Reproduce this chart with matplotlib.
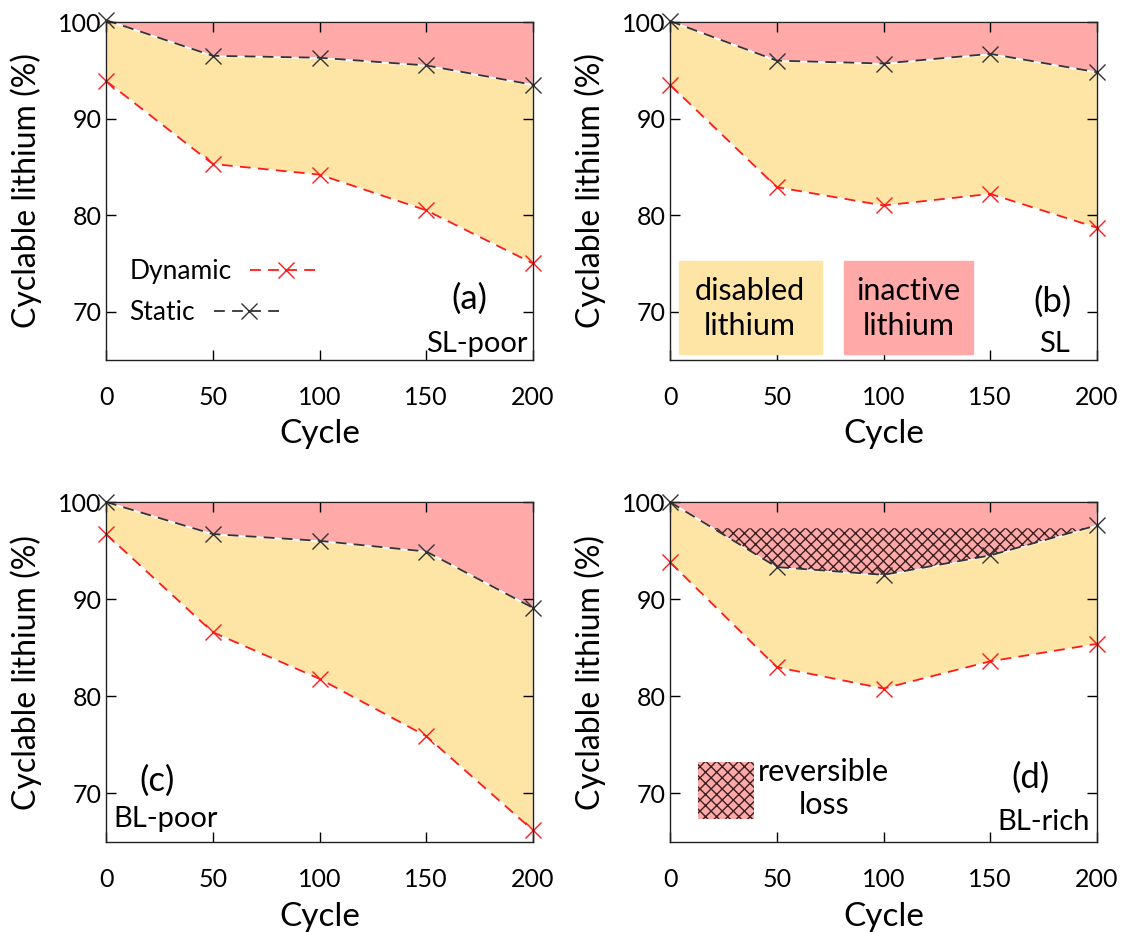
import matplotlib
matplotlib.use("Agg")
import matplotlib.pyplot as plt
import numpy as np

plt.rcParams["font.family"] = ["Lato", "DejaVu Sans"]
plt.rcParams["hatch.linewidth"] = 1.0

cycles = [0, 50, 100, 150, 200]

# panel data (cyclable lithium in %)
dyn_a = [93.9, 85.3, 84.2, 80.5, 75.0]
sta_a = [100.2, 96.5, 96.3, 95.5, 93.5]
dyn_b = [93.5, 82.9, 81.0, 82.2, 78.7]
sta_b = [100.1, 96.0, 95.7, 96.7, 94.8]
dyn_c = [96.7, 86.6, 81.8, 75.9, 66.2]
sta_c = [100.0, 96.7, 96.0, 94.9, 89.1]
dyn_d = [93.8, 83.0, 80.8, 83.6, 85.4]
sta_d = [100.0, 93.3, 92.5, 94.5, 97.6]
rev_top_d = 97.3

pink = "#FFAAA8"
yellow = "#FFE5A5"

W, H = 1123, 932
fig = plt.figure(figsize=(W / 100, H / 100), dpi=100)


def make_ax(left, top, right, bottom):
    return fig.add_axes([left / W, 1 - bottom / H, (right - left) / W, (bottom - top) / H])


def draw_panel(ax, dyn, sta):
    ax.fill_between(cycles, sta, 100, color=pink, edgecolor="white", lw=1.2, zorder=1)
    ax.fill_between(cycles, dyn, sta, color=yellow, edgecolor="white", lw=1.2, zorder=1)
    ax.plot(cycles, dyn, color="#ff1a1a", ls=(0, (6, 4)), lw=1.3, marker="x",
            ms=12, mew=1.0, zorder=4, clip_on=False, label="Dynamic")
    ax.plot(cycles, sta, color="#333333", ls=(0, (6, 4)), lw=1.3, marker="x",
            ms=12, mew=1.0, zorder=4, clip_on=False, label="Static")
    ax.set_xlim(0, 200)
    ax.set_ylim(65, 100)
    ax.set_xticks(cycles)
    ax.set_yticks([70, 80, 90, 100])
    ax.tick_params(direction="in", length=7, width=1, top=True, right=True,
                   labelsize=18, colors="black")
    ax.tick_params(axis="x", pad=19)
    ax.tick_params(axis="y", pad=3)
    for s in ax.spines.values():
        s.set_linewidth(1.0)
        s.set_color("#222222")
        s.set_zorder(5)
    ax.set_xlabel("Cycle", fontsize=24)
    ax.set_ylabel("Cyclable lithium (%)", fontsize=23)
    ax.xaxis.set_label_coords(0.5, -0.175)
    ax.yaxis.set_label_coords(-0.15, 0.5)


ax_a = make_ax(106, 22, 533, 360)
ax_b = make_ax(670, 22, 1097, 360)
ax_c = make_ax(106, 502, 533, 842)
ax_d = make_ax(670, 502, 1097, 842)

draw_panel(ax_a, dyn_a, sta_a)
draw_panel(ax_b, dyn_b, sta_b)
draw_panel(ax_c, dyn_c, sta_c)
draw_panel(ax_d, dyn_d, sta_d)

# (a)
leg = ax_a.legend(loc="upper left", bbox_to_anchor=(0.055, 0.298), frameon=False,
                  markerfirst=False, fontsize=19, handlelength=2.7,
                  handletextpad=0.7, labelspacing=0.6, borderpad=0, borderaxespad=0)
# left-align the label rows like the original
leg._legend_handle_box.get_children()[0].align = "left"
ax_a.text(170, 71.3, "(a)", fontsize=25, ha="center", va="center")
ax_a.text(197.5, 66.7, "SL-poor", fontsize=21, ha="right", va="center")

# (b)
ax_b.add_patch(plt.Rectangle((4.2, 65.6), 66.8, 9.6, color=yellow, zorder=2))
ax_b.add_patch(plt.Rectangle((81.5, 65.6), 60.2, 9.6, color=pink, zorder=2))
ax_b.text(37.3, 70.3, "disabled\nlithium", fontsize=22, ha="center", va="center",
          linespacing=1.3, zorder=3)
ax_b.text(111.8, 70.3, "inactive\nlithium", fontsize=22, ha="center", va="center",
          linespacing=1.3, zorder=3)
ax_b.text(179, 71.0, "(b)", fontsize=25, ha="center", va="center")
ax_b.text(180, 66.7, "SL", fontsize=21, ha="center", va="center")

# (c)
ax_c.text(24, 71.3, "(c)", fontsize=25, ha="center", va="center")
ax_c.text(3.5, 67.4, "BL-poor", fontsize=21, ha="left", va="center")

# (d) reversible loss hatch
top = np.full(len(cycles), rev_top_d)
ax_d.fill_between(cycles, sta_d, top, where=np.array(sta_d) < rev_top_d, interpolate=True,
                  facecolor=pink, edgecolor="#3a2020", hatch="xxx", lw=0, zorder=2)
ax_d.add_patch(plt.Rectangle((13.1, 67.4), 26.4, 5.8, facecolor=pink,
                             edgecolor="#3a2020", hatch="xxx", lw=0, zorder=2))
ax_d.text(72, 70.5, "reversible\nloss", fontsize=22, ha="center", va="center",
          linespacing=1.25)
ax_d.text(169, 71.6, "(d)", fontsize=25, ha="center", va="center")
ax_d.text(196.5, 67.1, "BL-rich", fontsize=21, ha="right", va="center")

fig.savefig("out.png", dpi=100)
